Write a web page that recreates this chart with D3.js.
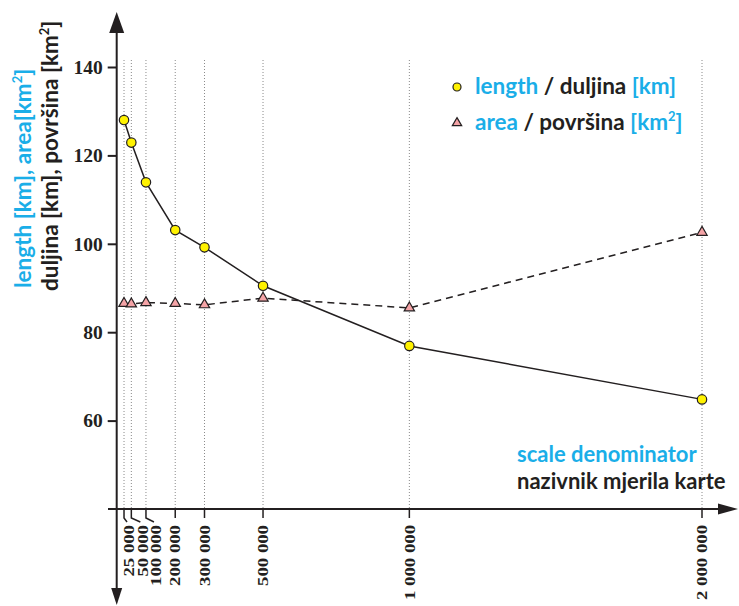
<!DOCTYPE html>
<html>
<head>
<meta charset="utf-8">
<script src="https://cdn.jsdelivr.net/npm/d3@7"></script>
<style>
  body { margin: 0; background: #fff; }
  .lab { font-family: Lato, "Open Sans", sans-serif; font-weight: 700; font-size: 22.5px; }
  .num { font-family: "Liberation Serif", serif; font-weight: 700; }
</style>
</head>
<body>
<div id="chart"></div>
<script>
// scale denominators (x) and measured values
var scales = [25000, 50000, 100000, 200000, 300000, 500000, 1000000, 2000000];
var scaleLabels = ["25 000", "50 000", "100 000", "200 000", "300 000", "500 000", "1 000 000", "2 000 000"];
var lengthKm = [128.0, 122.9, 113.9, 103.1, 99.2, 90.5, 76.9, 64.8];
var areaKm2 = [86.5, 86.4, 86.7, 86.5, 86.2, 87.7, 85.5, 102.6];
var yTicks = [60, 80, 100, 120, 140];

var width = 739, height = 606;
var blue = "#1aaee8", dark = "#231f20";

var svg = d3.select("#chart").append("svg")
  .attr("width", width)
  .attr("height", height);

// scales
var x = d3.scaleLinear().domain([0, 2000000]).range([116.7, 702]);
var y = d3.scaleLinear().domain([40, 140]).range([509, 67]);
var x0 = x(0), yBase = y(40);

// dotted verticals
svg.append("g").selectAll("line")
  .data(scales)
  .enter().append("line")
  .attr("x1", d => x(d)).attr("x2", d => x(d))
  .attr("y1", 60).attr("y2", yBase)
  .attr("stroke", "#8a8a8a")
  .attr("stroke-width", 1)
  .attr("stroke-dasharray", "1,2");

// axes lines
svg.append("line")
  .attr("x1", x0).attr("x2", x0)
  .attr("y1", 30).attr("y2", 592)
  .attr("stroke", dark).attr("stroke-width", 2);
svg.append("line")
  .attr("x1", 108).attr("x2", 722)
  .attr("y1", yBase).attr("y2", yBase)
  .attr("stroke", dark).attr("stroke-width", 2);

// arrow heads
svg.append("path")
  .attr("d", "M" + x0 + ",12 L" + (x0 - 7.5) + ",33 L" + (x0 + 7.5) + ",33 Z")
  .attr("fill", dark);
svg.append("path")
  .attr("d", "M" + x0 + ",605 L" + (x0 - 5.5) + ",588 L" + (x0 + 5.5) + ",588 Z")
  .attr("fill", dark);
svg.append("path")
  .attr("d", "M738," + yBase + " L718," + (yBase - 5.5) + " L718," + (yBase + 5.5) + " Z")
  .attr("fill", dark);

// y axis ticks
var yAxis = d3.axisLeft(y).tickValues(yTicks).tickSize(9).tickPadding(5);
var gy = svg.append("g")
  .attr("transform", "translate(" + x0 + ",0)")
  .call(yAxis);
gy.select(".domain").remove();
gy.selectAll(".tick line").attr("stroke", dark).attr("stroke-width", 2);
gy.selectAll(".tick text")
  .attr("class", "num")
  .style("font-size", "19.5px")
  .attr("fill", dark);

// x axis ticks with leader lines for the crowded ones
var labelShift = [3, 9, 8, 0, 0, 0, 0, 0];
var gx = svg.append("g");
gx.selectAll("path")
  .data(scales)
  .enter().append("path")
  .attr("d", function(d, i) {
    var px = x(d);
    if (labelShift[i] === 0) return "M" + px + "," + yBase + " V" + (yBase + 9);
    return "M" + px + "," + yBase + " V" + (yBase + 9) + " L" + (px + labelShift[i]) + "," + (yBase + 13);
  })
  .attr("fill", "none")
  .attr("stroke", dark)
  .attr("stroke-width", 1.5);
gx.selectAll("text")
  .data(scales)
  .enter().append("text")
  .attr("class", "num")
  .style("font-size", "15px")
  .attr("fill", dark)
  .attr("text-anchor", "end")
  .attr("dy", "0.35em")
  .attr("transform", function(d, i) {
    return "translate(" + (x(d) + labelShift[i] + (i < 3 ? 2 : 0)) + ",525) rotate(-90) scale(1.25,1)";
  })
  .text((d, i) => scaleLabels[i]);

// series lines
var line = d3.line()
  .x((d, i) => x(scales[i]))
  .y(d => y(d));

svg.append("path")
  .datum(areaKm2)
  .attr("d", line)
  .attr("fill", "none")
  .attr("stroke", dark)
  .attr("stroke-width", 1.5)
  .attr("stroke-dasharray", "7,5");

svg.append("path")
  .datum(lengthKm)
  .attr("d", line)
  .attr("fill", "none")
  .attr("stroke", dark)
  .attr("stroke-width", 1.5);

var tri = d3.symbol().type(d3.symbolTriangle).size(46);
svg.append("g").selectAll("path")
  .data(areaKm2)
  .enter().append("path")
  .attr("d", tri)
  .attr("transform", (d, i) => "translate(" + x(scales[i]) + "," + y(d) + ")")
  .attr("fill", "#f4a3a6")
  .attr("stroke", dark)
  .attr("stroke-width", 1.2);

svg.append("g").selectAll("circle")
  .data(lengthKm)
  .enter().append("circle")
  .attr("cx", (d, i) => x(scales[i]))
  .attr("cy", d => y(d))
  .attr("r", 4.7)
  .attr("fill", "#fff200")
  .attr("stroke", dark)
  .attr("stroke-width", 1.2);

// legend
var lg = svg.append("g");
lg.append("circle")
  .attr("cx", 457).attr("cy", 87).attr("r", 4)
  .attr("fill", "#fff200").attr("stroke", dark).attr("stroke-width", 1.2);
lg.append("path")
  .attr("d", d3.symbol().type(d3.symbolTriangle).size(38))
  .attr("transform", "translate(457,123)")
  .attr("fill", "#f4a3a6").attr("stroke", dark).attr("stroke-width", 1.2);

var t1 = lg.append("text").attr("class", "lab").attr("x", 475).attr("y", 94);
t1.append("tspan").attr("fill", blue).text("length");
t1.append("tspan").attr("fill", dark).text(" / duljina ");
t1.append("tspan").attr("fill", blue).text("[km]");

var t2 = lg.append("text").attr("class", "lab").attr("x", 475).attr("y", 130);
t2.append("tspan").attr("fill", blue).text("area");
t2.append("tspan").attr("fill", dark).text(" / površina ");
t2.append("tspan").attr("fill", blue).text("[km");
t2.append("tspan").attr("fill", blue).attr("dy", -9).style("font-size", "13px").text("2");
t2.append("tspan").attr("fill", blue).attr("dy", 9).text("]");

// x axis title
svg.append("text").attr("class", "lab")
  .attr("x", 517).attr("y", 462)
  .attr("fill", blue)
  .style("font-size", "22px")
  .text("scale denominator");
svg.append("text").attr("class", "lab")
  .attr("x", 517).attr("y", 489)
  .attr("fill", dark)
  .style("font-size", "22px")
  .text("nazivnik mjerila karte");

// y axis title
var ya = svg.append("text").attr("class", "lab")
  .attr("transform", "translate(31,288) rotate(-90)")
  .attr("fill", blue);
ya.append("tspan").text("length [km], area[km");
ya.append("tspan").attr("dy", -9).style("font-size", "13px").text("2");
ya.append("tspan").attr("dy", 9).text("]");

var yb = svg.append("text").attr("class", "lab")
  .attr("transform", "translate(58,291) rotate(-90)")
  .attr("fill", dark);
yb.append("tspan").text("duljina [km], površina [km");
yb.append("tspan").attr("dy", -9).style("font-size", "13px").text("2");
yb.append("tspan").attr("dy", 9).text("]");
</script>
</body>
</html>
